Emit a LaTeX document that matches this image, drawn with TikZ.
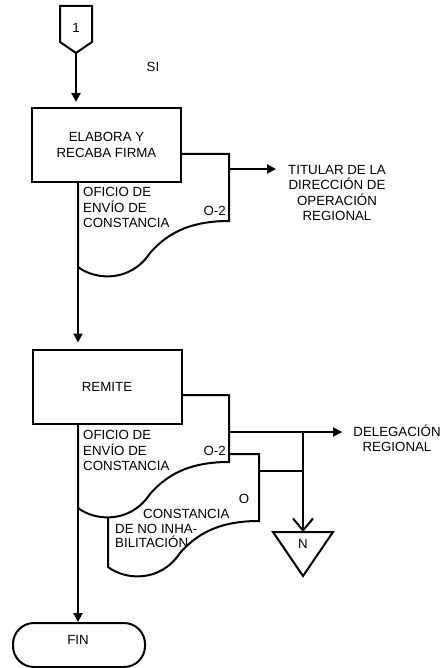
\documentclass[tikz,border=0pt]{standalone}
\usepackage{fontspec}
\setmainfont{Liberation Sans}
\usetikzlibrary{positioning, arrows.meta}

\tikzset{
  line/.style={line width=2pt},
  flow/.style={line width=2pt, -{Triangle[length=9pt, width=9pt]}},
  barb/.style={line width=2pt, -{Straight Barb[length=12pt, width=20pt]}},
  proc/.style={draw, line width=2pt, fill=white, align=center,
               minimum width=149pt, minimum height=74pt},
  term/.style={draw, line width=2pt, fill=white, rounded corners=21pt,
               minimum width=132pt, minimum height=44pt},
  % multi-line texts are placed by the baseline of their last line
  doctext/.style={align=left, inner sep=0pt, anchor=base west},
  dest/.style={align=center, inner sep=0pt, anchor=base},
  pics/docform/.style={code={
    \draw[line, fill=white] (0,0) -- (151,0) -- (151,67)
      .. controls (117,67) and (92,76) .. (72,99)
      .. controls (52,129) and (17,126) .. (0,113) -- cycle;}}
}

\begin{document}
\begin{tikzpicture}[x=1pt, y=-1pt, font=\fontsize{13.3}{15.5}\selectfont]
  \useasboundingbox (0,0) rectangle (444,668);
  \coordinate (spine) at (78,0);

  % off-page connector
  \draw[line] (60,6) -- (92,6) -- (92,42) -- (76,53) -- (60,42) -- cycle;
  \node (c1) at (76,28) {1};
  \coordinate (c1tip) at (76,53);
  \node (si) at (153,67) {SI};

  % first step
  \pic at (78,154) {docform};
  \node[proc] (box1) at (106.5,145) {ELABORA Y\\RECABA FIRMA};
  \node[doctext] (ofi1) at (83,227.7) {OFICIO DE\\ENVÍO DE\\CONSTANCIA};
  \node[anchor=east, inner sep=0pt] (cop1) at (226,211) {O-2};
  \coordinate (d1out) at (229,169);
  \node[dest] (titular) at (337,220.7)
    {TITULAR DE LA\\DIRECCIÓN DE\\OPERACIÓN\\REGIONAL};

  % second step
  \pic at (108,454) {docform};
  \pic at (78,395) {docform};
  \node[proc] (box2) at (107,386.5) {REMITE};
  \node[doctext] (ofi2) at (83,470.7) {OFICIO DE\\ENVÍO DE\\CONSTANCIA};
  \node[anchor=east, inner sep=0pt] (cop2) at (226,451) {O-2};
  \node[doctext, font=\fontsize{13.3}{14.5}\selectfont] (const) at (115,547.7)
    {\hspace*{28pt}CONSTANCIA\\DE NO INHA-\\BILITACIÓN};
  \node[inner sep=0pt] (orig) at (244,499) {O};
  \coordinate (d2out) at (229,432);
  \coordinate (d3out) at (259,471);
  \coordinate (split) at (303,432);
  \node[dest] (deleg) at (397,451.7) {DELEGACIÓN\\REGIONAL};

  % file
  \draw[line] (273,532) -- (333,532) -- (303,576) -- cycle;
  \node (nlab) at (303,544) {N};
  \coordinate (ntop) at (303,532);

  % end
  \node[term] (fin) at (79,645) {};
  \node (finlab) at (78,640) {FIN};

  % connectors
  \draw[flow, shorten >=5pt] (c1tip) -- (c1tip |- box1.north);
  \draw[flow, shorten >=6pt] (box1.south -| spine) -- (box2.north -| spine);
  \draw[flow] (box2.south -| spine) -- (fin.north -| spine);
  \draw[flow] (d1out) -- ([xshift=-12pt]d1out -| titular.west);
  \draw[flow] (d2out) -- ([xshift=-11pt]d2out -| deleg.west);
  \draw[barb] (split) -- (ntop);
  \draw[line] (d3out) -- (d3out -| split);
\end{tikzpicture}
\end{document}
